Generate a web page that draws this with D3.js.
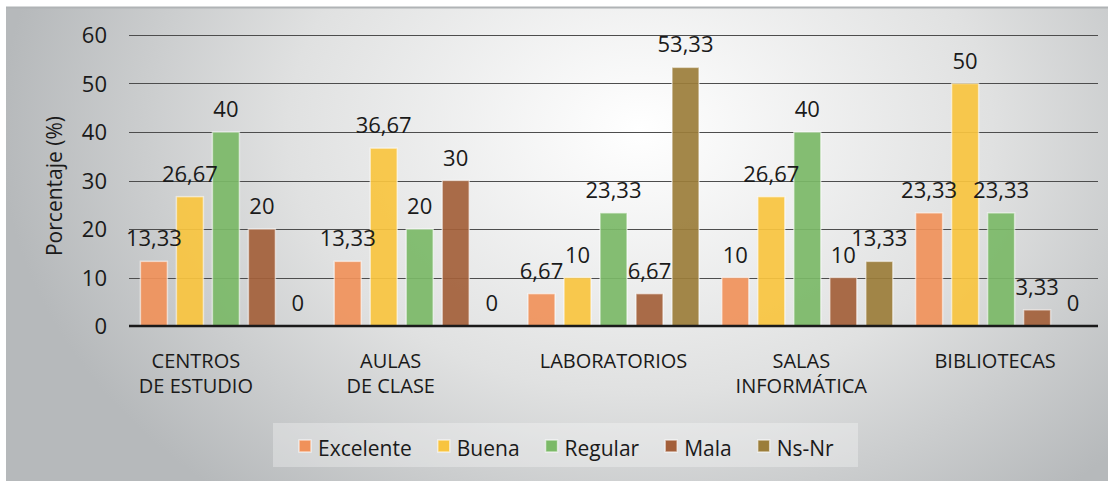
<!DOCTYPE html>
<html>
<head>
<meta charset="utf-8">
<script src="https://cdn.jsdelivr.net/npm/d3@7"></script>
<style>
  body { margin: 0; background: #fff; }
  svg { display: block; font-family: "Open Sans", sans-serif; }
</style>
</head>
<body>
<svg id="chart"></svg>
<script>
const categories = [["CENTROS", "DE ESTUDIO"], ["AULAS", "DE CLASE"], ["LABORATORIOS"], ["SALAS", "INFORMÁTICA"], ["BIBLIOTECAS"]];
const seriesNames = ["Excelente", "Buena", "Regular", "Mala", "Ns-Nr"];
const excelente = [13.33, 13.33, 6.67, 10, 23.33];
const buena = [26.67, 36.67, 10, 26.67, 50];
const regular = [40, 20, 23.33, 40, 23.33];
const mala = [20, 30, 6.67, 10, 3.33];
const nsnr = [0, 0, 53.33, 13.33, 0];
const yTicks = [0, 10, 20, 30, 40, 50, 60];

const colors = ["#f0915a", "#f8c43f", "#7bb967", "#a35f3a", "#9b7d3a"];
const seriesValues = [excelente, buena, regular, mala, nsnr];
// small shifts for the category labels, as in the original layout
const catDx = [-30, -29, 0, -6, -6];

const width = 1115, height = 481;
const svg = d3.select('#chart').attr('width', width).attr('height', height);

// background panel with radial gradient
const defs = svg.append('defs');
const grad = defs.append('radialGradient')
    .attr('id', 'bg').attr('gradientUnits', 'userSpaceOnUse')
    .attr('cx', 640).attr('cy', 130).attr('r', 640)
    .attr('gradientTransform', 'translate(640,130) scale(1,0.75) translate(-640,-130)');
grad.append('stop').attr('offset', 0).attr('stop-color', '#ffffff');
grad.append('stop').attr('offset', 0.55).attr('stop-color', '#e0e1e1');
grad.append('stop').attr('offset', 1).attr('stop-color', '#b6b9bb');

svg.append('rect').attr('x', 6).attr('y', 7).attr('width', 1102).attr('height', 474)
    .attr('fill', 'url(#bg)');
svg.append('line').attr('x1', 6).attr('x2', 1108).attr('y1', 7.5).attr('y2', 7.5)
    .attr('stroke', '#b0b3b5').attr('stroke-width', 2);

const x0 = d3.scaleBand().domain(d3.range(categories.length)).range([129, 1098]);
const x1 = d3.scaleBand().domain(seriesNames).range([0, 171]).paddingInner(0.25);
const y = d3.scaleLinear().domain([0, 60]).range([326, 35]);
const groupOffset = (x0.bandwidth() - 171) / 2;

// gridlines
svg.append('g').selectAll('line')
    .data(yTicks.filter(t => t > 0))
    .enter().append('line')
    .attr('x1', 129).attr('x2', 1098)
    .attr('y1', d => Math.round(y(d)) + 0.5).attr('y2', d => Math.round(y(d)) + 0.5)
    .attr('stroke', '#4d4d4d').attr('stroke-width', 1);

// y tick labels
svg.append('g').selectAll('text')
    .data(yTicks)
    .enter().append('text')
    .attr('x', 107).attr('y', d => y(d) + 8)
    .attr('text-anchor', 'end')
    .attr('font-size', 22).attr('fill', '#1a1a1a')
    .text(d => d);

svg.append('text')
    .attr('transform', 'translate(62,186) rotate(-90)')
    .attr('text-anchor', 'middle')
    .attr('font-size', 21).attr('fill', '#1a1a1a')
    .text('Porcentaje (%)');

// bars
const groups = svg.append('g').selectAll('g')
    .data(categories)
    .enter().append('g')
    .attr('transform', (d, i) => `translate(${x0(i) + groupOffset},0)`);

groups.each(function(cat, ci) {
    const g = d3.select(this);
    const vals = seriesNames.map((s, si) => ({ s, si, v: seriesValues[si][ci] }));
    g.selectAll('rect')
        .data(vals.filter(d => d.v > 0))
        .enter().append('rect')
        .attr('x', d => x1(d.s))
        .attr('y', d => y(d.v))
        .attr('width', x1.bandwidth())
        .attr('height', d => y(0) - y(d.v))
        .attr('fill', d => colors[d.si])
        .attr('fill-opacity', 0.92)
        .attr('stroke', 'rgba(255,255,255,0.55)')
        .attr('stroke-width', 1.5);
    g.selectAll('text')
        .data(vals)
        .enter().append('text')
        .attr('x', d => x1(d.s) + x1.bandwidth() / 2)
        .attr('y', d => y(d.v) - 15)
        .attr('text-anchor', 'middle')
        .attr('font-size', 22).attr('fill', '#1a1a1a')
        .text(d => String(d.v).replace('.', ','));
});

// zero line
svg.append('line').attr('x1', 129).attr('x2', 1098)
    .attr('y1', y(0)).attr('y2', y(0))
    .attr('stroke', '#1a1a1a').attr('stroke-width', 2.5);

// category labels, one text per line
const catLines = [];
categories.forEach((lines, i) => lines.forEach((l, k) => catLines.push({ i, k, l })));
svg.append('g').selectAll('text')
    .data(catLines)
    .enter().append('text')
    .attr('x', d => x0(d.i) + x0.bandwidth() / 2 + catDx[d.i])
    .attr('y', d => 368 + d.k * 25)
    .attr('text-anchor', 'middle')
    .attr('font-size', 20).attr('fill', '#1a1a1a')
    .text(d => d.l);

// legend
const legend = svg.append('g');
legend.append('rect').attr('x', 273).attr('y', 423).attr('width', 585).attr('height', 44)
    .attr('fill', 'rgba(255,255,255,0.3)');
let lx = 298;
seriesNames.forEach((name, i) => {
    legend.append('rect').attr('x', lx + 1).attr('y', 440).attr('width', 12).attr('height', 12)
        .attr('fill', colors[i]).attr('stroke', 'rgba(255,255,255,0.6)').attr('stroke-width', 1.5);
    const t = legend.append('text').attr('x', lx + 20).attr('y', 456)
        .attr('font-size', 21).attr('fill', '#1a1a1a').text(name);
    lx += 20 + t.node().getComputedTextLength() + 25;
});
</script>
</body>
</html>
